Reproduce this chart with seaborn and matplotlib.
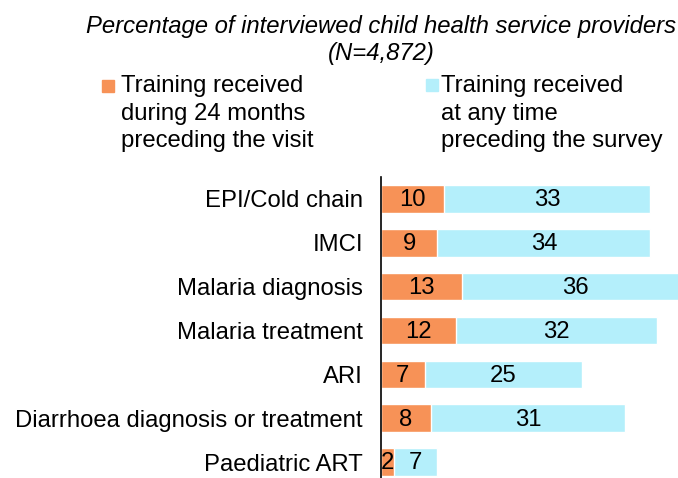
import matplotlib
matplotlib.use("Agg")
import matplotlib.pyplot as plt
from matplotlib.patches import Rectangle
import pandas as pd
import seaborn as sns

# training received by child health service providers (%)
categories = ["EPI/Cold chain", "IMCI", "Malaria diagnosis", "Malaria treatment",
              "ARI", "Diarrhoea diagnosis or treatment", "Paediatric ART"]
recent_24m = [10, 9, 13, 12, 7, 8, 2]
any_time = [33, 34, 36, 32, 25, 31, 7]

legend_labels = ["Training received\nduring 24 months\npreceding the visit",
                 "Training received\nat any time\npreceding the survey"]
title = "Percentage of interviewed child health service providers\n(N=4,872)"

orange = "#F79257"
cyan = "#B4EFFB"

sns.set_theme(style="white")
plt.rcParams["font.family"] = ["Liberation Sans", "DejaVu Sans"]
plt.rcParams["text.color"] = "black"
plt.rcParams["ytick.color"] = "black"
fs = 17.2

df = pd.DataFrame({"cat": categories, "recent": recent_24m, "any": any_time})
df["total"] = df["recent"] + df["any"]

fig = plt.figure(figsize=(6.78, 4.78), dpi=100)
ax = fig.add_axes([381 / 678, -6 / 478, 1 - 381 / 678, 307 / 478])

sns.barplot(data=df, y="cat", x="total", color=cyan, saturation=1, width=0.63,
            orient="h", ax=ax)
sns.barplot(data=df, y="cat", x="recent", color=orange, saturation=1, width=0.63,
            orient="h", ax=ax)

for i, (a, b) in enumerate(zip(recent_24m, any_time)):
    ax.text(a / 2, i + 0.03, str(a), ha="center", va="center", fontsize=fs)
    ax.text(a + b / 2, i + 0.03, str(b), ha="center", va="center", fontsize=fs)

ax.set_xlim(0, 47.4)
ax.set_ylim(6.5, -0.5)
ax.set_xlabel("")
ax.set_ylabel("")
ax.set_xticks([])
ax.tick_params(axis="y", labelsize=fs, length=0, pad=13, labelcolor="black")
for s in ["top", "right", "bottom"]:
    ax.spines[s].set_visible(False)
ax.spines["left"].set_color("black")
ax.spines["left"].set_linewidth(1.2)

fig.text(381 / 678, 1 - 40 / 478, title, ha="center", va="center", fontsize=fs,
         style="italic", linespacing=1.22)

# legend drawn by hand so the squares sit on the first line
for x_m, y_m, x_t, lab, col in [(102, 92, 121, legend_labels[0], orange),
                                (426, 91, 441, legend_labels[1], cyan)]:
    fig.patches.append(Rectangle((x_m / 678, 1 - y_m / 478), 12 / 678, 12 / 478,
                                 transform=fig.transFigure, color=col))
    fig.text(x_t / 678, 1 - 75 / 478, lab, ha="left", va="top", fontsize=fs,
             linespacing=1.33)

fig.savefig("out.png", dpi=100)
